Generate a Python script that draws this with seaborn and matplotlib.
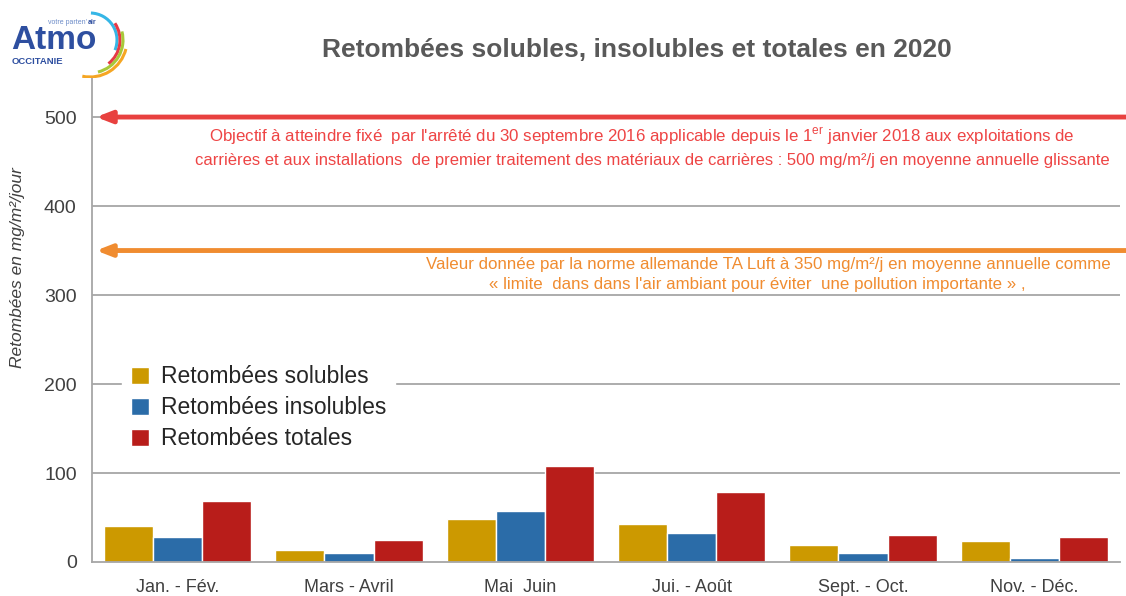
import matplotlib
matplotlib.use("Agg")
import matplotlib.pyplot as plt
from matplotlib.patches import Arc
import pandas as pd
import seaborn as sns

# data
periodes = ["Jan. - Fév.", "Mars - Avril", "Mai  Juin", "Jui. - Août", "Sept. - Oct.", "Nov. - Déc."]
solubles = [40, 14, 48, 43, 19.5, 23.5]
insolubles = [28.5, 10.5, 57, 33, 10.5, 5]
totales = [69, 25, 108, 79, 30, 28.5]
series = ["Retombées solubles", "Retombées insolubles", "Retombées totales"]
couleurs = ["#CC9900", "#2B6CA8", "#B81D1A"]
seuil_objectif = 500
seuil_ta_luft = 350

df = pd.DataFrame({
    "periode": periodes * 3,
    "valeur": solubles + insolubles + totales,
    "type": [series[0]] * 6 + [series[1]] * 6 + [series[2]] * 6,
})

sns.set_style("white")
plt.rcParams["font.family"] = ["Liberation Sans", "DejaVu Sans"]
plt.rcParams["mathtext.fontset"] = "custom"
plt.rcParams["mathtext.rm"] = "Liberation Sans"

fig = plt.figure(figsize=(11.26, 5.96), dpi=100)
ax = fig.add_axes([92 / 1126, 1 - 562 / 596, 1028 / 1126, 485 / 596])

sns.barplot(data=df, x="periode", y="valeur", hue="type", palette=couleurs,
            width=0.86, saturation=1, gap=0, ax=ax, legend=True)

grid_col = "#A6A6A6"
ax.set_xlim(-0.5, 5.5)
ax.set_ylim(0, 545)
ax.set_yticks([0, 100, 200, 300, 400, 500])
for v in [100, 200, 300, 400, 500]:
    ax.axhline(v, color=grid_col, lw=1.3, zorder=0)
for s in ["top", "right"]:
    ax.spines[s].set_visible(False)
for s in ["left", "bottom"]:
    ax.spines[s].set_color(grid_col)
    ax.spines[s].set_linewidth(1.3)

ax.set_xlabel("")
ax.set_ylabel("")
ax.tick_params(axis="x", which="major", length=0, pad=12, labelsize=13, labelcolor="#404040")
ax.set_xticks([i - 0.5 for i in range(7)], minor=True)
ax.tick_params(axis="x", which="minor", length=8, color=grid_col, width=1.2, direction="inout")
ax.tick_params(axis="y", length=7, color=grid_col, width=1.2, labelsize=14, labelcolor="#404040", pad=4)

fig.text(18 / 1126, 1 - 268 / 596, "Retombées en mg/m²/jour", rotation=90, style="italic",
         fontsize=12.5, color="#404040", ha="center", va="center")

# threshold arrows
tr = ax.get_yaxis_transform()
ax.annotate("", xy=(0.004, seuil_objectif), xycoords=tr, xytext=(1.007, seuil_objectif), textcoords=tr,
            arrowprops=dict(arrowstyle="-|>,head_length=0.9,head_width=0.35", color="#E8413F", lw=3.5,
                            shrinkA=0, shrinkB=0), annotation_clip=False)
ax.annotate("", xy=(0.004, seuil_ta_luft), xycoords=tr, xytext=(1.007, seuil_ta_luft), textcoords=tr,
            arrowprops=dict(arrowstyle="-|>,head_length=0.9,head_width=0.35", color="#F08C30", lw=3.5,
                            shrinkA=0, shrinkB=0), annotation_clip=False)

red_txt = "#EE4444"
note_size = 12.2
fig.text(642 / 1126, 1 - 136 / 596,
         "Objectif à atteindre fixé  par l'arrêté du 30 septembre 2016 applicable depuis le 1$^{\\mathrm{er}}$ janvier 2018 aux exploitations de",
         ha="center", va="center", fontsize=note_size, color=red_txt)
fig.text(652 / 1126, 1 - 160 / 596,
         "carrières et aux installations  de premier traitement des matériaux de carrières : 500 mg/m²/j en moyenne annuelle glissante",
         ha="center", va="center", fontsize=12, color=red_txt)
org_txt = "#F08C30"
fig.text(768 / 1126, 1 - 264 / 596,
         "Valeur donnée par la norme allemande TA Luft à 350 mg/m²/j en moyenne annuelle comme",
         ha="center", va="center", fontsize=note_size, color=org_txt)
fig.text(757 / 1126, 1 - 285 / 596,
         "« limite  dans dans l'air ambiant pour éviter  une pollution importante » ,",
         ha="center", va="center", fontsize=note_size, color=org_txt)

# legend
handles, labels = ax.get_legend_handles_labels()
ax.legend(handles, labels, loc="upper left", bbox_to_anchor=(0.018, 0.448), frameon=True,
          facecolor="white", edgecolor="white", framealpha=1, fontsize=16.5,
          handlelength=0.8, handleheight=0.8, handletextpad=0.5, labelspacing=0.35,
          borderpad=0.4, labelcolor="#262626")

fig.text(637 / 1126, 1 - 50 / 596, "Retombées solubles, insolubles et totales en 2020",
         ha="center", va="center", fontsize=19, fontweight="bold", color="#595959")

# logo
lax = fig.add_axes([0, 1 - 78 / 596, 146 / 1126, 78 / 596])
lax.set_xlim(0, 146)
lax.set_ylim(0, 78)
lax.axis("off")
lax.text(11, 29, "Atmo", fontsize=24, fontweight="bold", color="#2E4FA0", va="baseline", ha="left")
lax.text(12, 14, "OCCITANIE", fontsize=6.8, fontweight="bold", color="#2E4FA0", va="baseline", ha="left")
lax.text(48, 54, "votre parten'", fontsize=5, color="#6D8CC8", va="baseline", ha="left")
lax.text(88, 54, "air", fontsize=5, fontweight="bold", color="#2E4FA0", va="baseline", ha="left")
for r, t1, t2, c in [(27, -22, 88, "#35B6E6"), (30, -52, 34, "#E63946"),
                     (33, -76, 15, "#A8C83A"), (37, -102, -14, "#F5A623")]:
    lax.add_patch(Arc((90, 38), 2 * r, 2 * r, theta1=t1, theta2=t2, color=c, lw=2.2))

fig.savefig("out.png", dpi=100)
